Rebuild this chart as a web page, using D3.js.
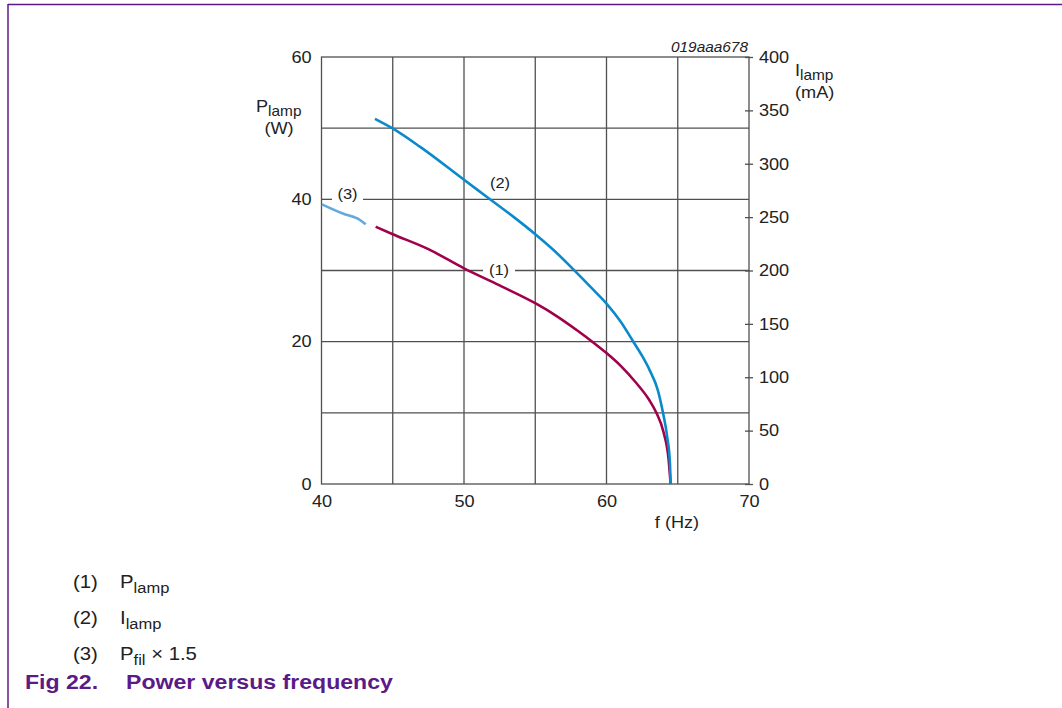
<!DOCTYPE html>
<html lang="en">
<head>
  <meta charset="UTF-8">
  <title>Power versus frequency</title>
  <style>
    body { margin: 0; background: #fff; }
    svg text { font-family: "Liberation Sans", Arial, sans-serif; fill: #222; }
    .axis path, .axis line { stroke: #505050; }
    .axis text { font-size: 16.5px; fill: #222; }
    .grid line { stroke: #505050; stroke-width: 1.3; }
  </style>
</head>
<body>
  <script src="https://cdn.jsdelivr.net/npm/d3@7"></script>
  <script>
    // curve (1) P lamp (W)
    var freqP = [43.8, 45, 47.5, 50, 52.5, 55, 56.5, 58, 59, 60, 61, 62, 63, 63.5, 64, 64.35, 64.5];
    var powerP = [36.15, 35.1, 33.0, 30.3, 27.9, 25.4, 23.6, 21.5, 20.0, 18.4, 16.6, 14.4, 11.8, 10.0, 7.3, 3.6, 0];
    // curve (2) I lamp (mA)
    var freqI = [43.75, 44.93, 46.9, 50, 51.8, 53.5, 55, 56.3, 57.6, 59, 60, 61, 61.85, 62.5, 63.05, 63.6, 63.96, 64.25, 64.45, 64.5];
    var currI = [342, 333.5, 316, 285, 267, 250, 234, 219, 202, 183, 169, 152, 134, 120, 106, 88, 67, 45, 20, 0];
    // curve (3) P fil x 1.5 (W)
    var freqF = [40.03, 41.5, 42.7, 43.1];
    var powerF = [39.3, 38.0, 37.1, 36.5];

    var xTicks = [40, 50, 60, 70];
    var yLeftTicks = [0, 20, 40, 60];
    var yRightTicks = [0, 50, 100, 150, 200, 250, 300, 350, 400];
    var xGrid = [45, 50, 55, 60, 65];
    var yGrid = [10, 20, 30, 40, 50];

    var width = 1062, height = 708;
    var sx = 1.1; // the reference type is a little wide
    var svg = d3.select("body").append("svg").attr("width", width).attr("height", height);

    var x = d3.scaleLinear().domain([40, 70]).range([321.5, 749]);
    var yP = d3.scaleLinear().domain([0, 60]).range([484, 57]);
    var yI = d3.scaleLinear().domain([0, 400]).range([484, 57]);

    var purple = "#5b1a86";

    // page frame
    svg.append("line").attr("x1", 8).attr("x2", 1062).attr("y1", 4.5).attr("y2", 4.5)
      .attr("stroke", purple).attr("stroke-width", 1.5);
    svg.append("line").attr("x1", 8).attr("x2", 8).attr("y1", 4).attr("y2", 708)
      .attr("stroke", purple).attr("stroke-width", 1.5);

    // grid (with gaps behind the curve labels)
    var g = svg.append("g").attr("class", "grid");
    g.selectAll("line.v").data(xGrid).enter().append("line").attr("class", "v")
      .attr("x1", function (d) { return x(d); }).attr("x2", function (d) { return x(d); })
      .attr("y1", yP(0)).attr("y2", yP(60));
    var gaps = { 40: [332, 363], 30: [483, 515] };
    yGrid.forEach(function (v) {
      var segs = gaps[v] ? [[x(40), gaps[v][0]], [gaps[v][1], x(70)]] : [[x(40), x(70)]];
      segs.forEach(function (s) {
        g.append("line").attr("x1", s[0]).attr("x2", s[1]).attr("y1", yP(v)).attr("y2", yP(v));
      });
    });
    g.append("rect").attr("x", x(40)).attr("y", yP(60)).attr("width", x(70) - x(40)).attr("height", yP(0) - yP(60))
      .attr("fill", "none").attr("stroke", "#505050").attr("stroke-width", 1.3);

    // axes
    svg.append("g").attr("class", "axis").attr("transform", "translate(" + x(40) + ",0)")
      .call(d3.axisLeft(yP).tickValues(yLeftTicks).tickSize(0).tickPadding(9))
      .call(function (a) { a.select(".domain").remove(); a.selectAll("text").attr("transform", "scale(" + sx + ",1)"); });
    svg.append("g").attr("class", "axis").attr("transform", "translate(0," + yP(0) + ")")
      .call(d3.axisBottom(x).tickValues(xTicks).tickSize(0).tickPadding(11))
      .call(function (a) { a.select(".domain").remove(); a.selectAll("text").attr("transform", "scale(" + sx + ",1)"); });
    var ra = svg.append("g").attr("class", "axis").attr("transform", "translate(" + x(70) + ",0)")
      .call(d3.axisRight(yI).tickValues(yRightTicks).tickSize(4).tickPadding(5));
    ra.select(".domain").remove();
    ra.selectAll(".tick line").attr("x1", -4).attr("stroke-width", 1.3);
    ra.selectAll("text").attr("transform", "scale(" + sx + ",1)");

    // curves
    var lineP = d3.line().x(function (d) { return x(d[0]); }).y(function (d) { return yP(d[1]); }).curve(d3.curveMonotoneX);
    var lineI = d3.line().x(function (d) { return x(d[0]); }).y(function (d) { return yI(d[1]); }).curve(d3.curveMonotoneX);

    svg.append("path").datum(d3.zip(freqF, powerF)).attr("d", lineP)
      .attr("fill", "none").attr("stroke", "#62a9de").attr("stroke-width", 2.6);
    svg.append("path").datum(d3.zip(freqP, powerP)).attr("d", lineP)
      .attr("fill", "none").attr("stroke", "#a1004b").attr("stroke-width", 2.6);
    svg.append("path").datum(d3.zip(freqI, currI)).attr("d", lineI)
      .attr("fill", "none").attr("stroke", "#0a8acb").attr("stroke-width", 2.6);

    // text helper: positioned by translate, widened a little
    function txt(px, py, size, anchor) {
      return svg.append("text").attr("transform", "translate(" + px + "," + py + ") scale(" + sx + ",1)")
        .attr("text-anchor", anchor || "start").style("font-size", size + "px");
    }

    // curve labels
    txt(347.5, 199, 15, "middle").text("(3)");
    txt(500, 188, 15, "middle").text("(2)");
    txt(499, 275, 15, "middle").text("(1)");

    // axis titles
    function sub(el, main, s, subSize) {
      el.append("tspan").text(main);
      el.append("tspan").attr("dy", 4).style("font-size", subSize + "px").text(s);
    }
    sub(txt(256, 112, 16.5), "P", "lamp", 14);
    txt(279, 134, 16.5, "middle").text("(W)");
    sub(txt(795, 76, 16.5), "I", "lamp", 14);
    txt(795, 98, 16.5).text("(mA)");
    txt(677, 528, 16.5, "middle").text("f (Hz)");
    txt(748, 52, 14, "end").style("font-style", "italic").text("019aaa678");

    // legend
    var legend = [["(1)", "P", "lamp", ""], ["(2)", "I", "lamp", ""], ["(3)", "P", "fil", " \u00d7 1.5"]];
    legend.forEach(function (d, i) {
      var yy = 588 + i * 36;
      txt(73, yy, 18.5).text(d[0]);
      var t = txt(120, yy, 18.5);
      t.append("tspan").text(d[1]);
      t.append("tspan").attr("dy", 5).style("font-size", "15px").text(d[2]);
      if (d[3]) t.append("tspan").attr("dy", -5).text(d[3]);
    });

    // caption
    txt(25, 689, 21).style("font-weight", "bold").style("fill", purple).text("Fig 22.");
    txt(126, 689, 21).style("font-weight", "bold").style("fill", purple).text("Power versus frequency");
  </script>
</body>
</html>
